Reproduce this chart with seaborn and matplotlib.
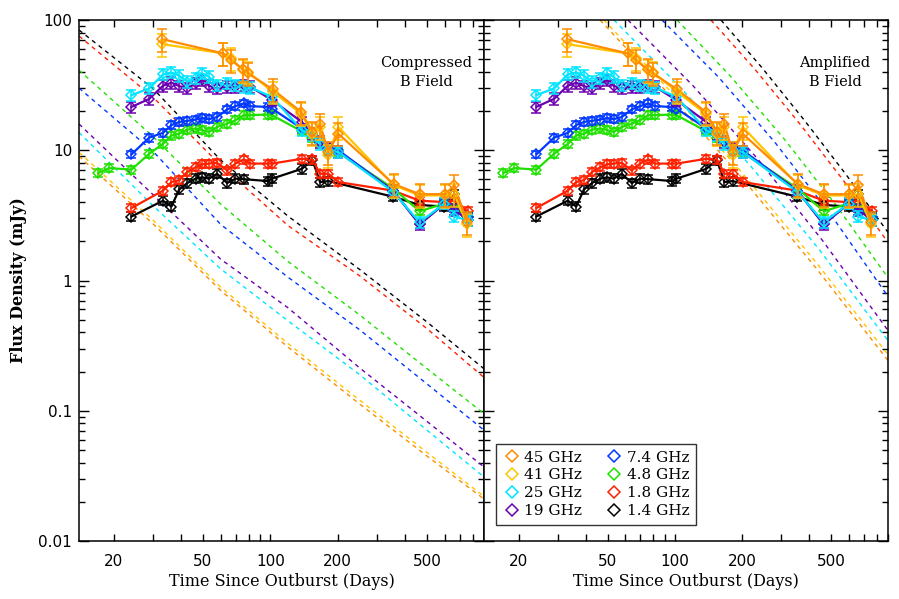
import matplotlib
matplotlib.use("Agg")
import matplotlib.pyplot as plt
from matplotlib.lines import Line2D
from matplotlib.ticker import FixedLocator, FixedFormatter, NullLocator
import pandas as pd
import seaborn as sns

# bands, colours and rough fractional errors
bands = ["45 GHz", "41 GHz", "25 GHz", "19 GHz", "7.4 GHz", "4.8 GHz", "1.8 GHz", "1.4 GHz"]
colors = ["#ff8c00", "#ffc400", "#00e5ff", "#6a00b0", "#0038ff", "#20e000", "#ff2000", "#000000"]
rel_err = [0.2, 0.2, 0.1, 0.1, 0.07, 0.07, 0.07, 0.08]

# observed light curves (days, mJy)
t_45 = [32.8, 61.6, 66.9, 75.6, 79.6, 102.4, 137.3, 154.3, 166.8, 181.6, 201.2, 355.6, 464.2, 603.6, 663.8, 755.9]
f_45 = [71.4, 55.4, 49.2, 41.7, 38.9, 29.4, 19.7, 13.8, 15.8, 9.7, 13.4, 5.5, 4.6, 4.6, 5.4, 2.8]
t_41 = [32.8, 61.6, 66.9, 75.6, 79.6, 102.4, 137.3, 154.3, 166.8, 181.6, 201.2, 355.6, 464.2, 603.6, 663.8, 755.9]
f_41 = [65.4, 55.4, 50.7, 41.2, 40.0, 28.1, 19.1, 13.4, 15.1, 9.2, 15.1, 5.4, 4.5, 4.5, 4.6, 2.7]
t_25 = [24.0, 28.8, 33.2, 36.2, 39.2, 42.6, 46.4, 49.7, 53.2, 57.9, 64.2, 69.9, 76.1, 81.5, 101.7,
        138.3, 154.3, 166.8, 181.6, 201.2, 353.3, 464.2, 599.5, 663.8, 760.5]
f_25 = [26.5, 29.8, 38.2, 39.6, 37.3, 33.6, 35.6, 38.9, 36.6, 31.6, 32.6, 31.6, 30.7, 30.3, 25.7,
        14.3, 13.0, 11.2, 10.0, 9.7, 4.8, 2.8, 3.9, 3.1, 2.9]
t_19 = [24.0, 28.8, 33.2, 36.2, 39.2, 42.6, 46.4, 49.7, 53.2, 57.9, 64.2, 69.9, 76.1, 81.5, 101.7,
        138.3, 154.3, 166.8, 181.6, 201.2, 353.3, 464.2, 599.5, 663.8, 760.5]
f_19 = [21.5, 24.8, 31.3, 33.0, 31.1, 29.8, 32.6, 34.6, 31.3, 29.8, 30.7, 30.7, 31.6, 30.7, 24.3,
        16.5, 13.4, 11.6, 10.3, 9.7, 4.9, 2.7, 3.9, 3.5, 2.9]
t_74 = [24.0, 28.8, 33.2, 36.2, 39.2, 42.6, 46.4, 49.7, 53.2, 57.9, 64.2, 69.9, 76.1, 81.5, 97.6, 101.7,
        138.3, 154.3, 166.8, 181.6, 201.2, 353.3, 464.2, 599.5, 663.8, 760.5]
f_74 = [9.3, 12.5, 13.6, 15.6, 16.5, 16.8, 17.2, 17.7, 17.3, 18.0, 20.6, 21.8, 22.9, 21.8, 21.5, 20.9,
        14.7, 13.0, 11.6, 10.5, 10.0, 4.9, 2.7, 3.9, 3.4, 3.1]
t_48 = [17.1, 19.1, 24.0, 28.8, 33.2, 36.2, 39.2, 42.6, 46.4, 49.7, 53.2, 57.9, 64.2, 69.9, 76.1, 81.5,
        97.6, 101.7, 138.3, 154.3, 166.8, 181.6, 201.2, 353.3, 464.2, 599.5, 663.8, 760.5]
f_48 = [6.7, 7.3, 7.1, 9.4, 11.2, 13.0, 13.4, 14.4, 14.7, 14.3, 13.8, 15.1, 16.0, 17.0, 18.6, 18.6,
        18.8, 18.6, 14.0, 12.4, 11.4, 10.1, 9.7, 5.1, 3.4, 3.9, 3.6, 3.1]
t_18 = [24.0, 33.2, 36.2, 39.2, 42.6, 46.4, 49.7, 53.2, 57.9, 64.2, 69.9, 76.1, 81.5, 97.6, 101.7,
        138.3, 154.3, 166.8, 181.6, 201.2, 353.3, 464.2, 599.5, 663.8, 760.5]
f_18 = [3.6, 4.9, 5.7, 5.9, 6.8, 7.4, 7.8, 7.9, 8.0, 7.0, 7.9, 8.5, 7.9, 7.9, 7.9,
        8.6, 8.5, 6.6, 6.6, 5.7, 4.9, 4.1, 4.0, 4.1, 3.4]
t_14 = [24.0, 33.2, 36.2, 39.2, 42.6, 46.4, 49.7, 53.2, 57.9, 64.2, 69.9, 76.1, 97.6, 101.7,
        138.3, 154.3, 166.8, 181.6, 353.3, 464.2, 599.5, 663.8, 760.5]
f_14 = [3.1, 4.1, 3.7, 5.0, 5.6, 6.05, 6.2, 6.05, 6.6, 5.6, 6.05, 6.0, 5.8, 6.05,
        7.2, 8.4, 5.7, 5.8, 4.4, 3.8, 3.7, 4.6, 3.1]

# compressed-field model curves (left panel), sampled at common times
t_comp = [14, 30, 60, 120, 250, 500, 900]
comp_45 = [9.0, 2.72, 0.84, 0.308, 0.113, 0.045, 0.021]
comp_41 = [9.65, 2.9, 0.89, 0.328, 0.121, 0.048, 0.022]
comp_25 = [13.7, 3.74, 1.23, 0.49, 0.19, 0.071, 0.031]
comp_19 = [15.9, 4.55, 1.46, 0.617, 0.214, 0.083, 0.037]
comp_74 = [30.0, 9.8, 2.7, 1.06, 0.42, 0.161, 0.071]
comp_48 = [41.2, 12.7, 3.86, 1.4, 0.546, 0.211, 0.095]
comp_18 = [75.3, 25.5, 7.67, 2.64, 1.09, 0.428, 0.18]
comp_14 = [83.8, 29.7, 8.42, 3.12, 1.22, 0.481, 0.21]

# amplified-field model curves (right panel)
ta_45 = [46.3, 97.2, 204, 428, 900]
amp_45 = [100, 25.3, 5.88, 1.25, 0.243]
ta_41 = [48.2, 100.2, 208, 433, 900]
amp_41 = [100, 26.0, 6.2, 1.35, 0.27]
ta_25 = [53.4, 108.2, 219, 444, 900]
amp_25 = [100, 29.2, 7.53, 1.72, 0.345]
ta_19 = [61.7, 120.6, 235.6, 460, 900]
amp_19 = [100, 31.3, 8.53, 2.01, 0.413]
ta_74 = [87.6, 157, 280.6, 502, 900]
amp_74 = [100, 36.4, 11.5, 3.16, 0.753]
ta_48 = [102.3, 176, 303, 522, 900]
amp_48 = [100, 37.6, 12.7, 3.86, 1.05]
ta_18 = [145, 229, 361, 570, 900]
amp_18 = [100, 41.6, 16.1, 5.82, 1.96]
ta_14 = [160.9, 247.4, 380, 585, 900]
amp_14 = [100, 42.4, 17.0, 6.48, 2.34]

obs_t = [t_45, t_41, t_25, t_19, t_74, t_48, t_18, t_14]
obs_f = [f_45, f_41, f_25, f_19, f_74, f_48, f_18, f_14]
comp_f = [comp_45, comp_41, comp_25, comp_19, comp_74, comp_48, comp_18, comp_14]
amp_t = [ta_45, ta_41, ta_25, ta_19, ta_74, ta_48, ta_18, ta_14]
amp_f = [amp_45, amp_41, amp_25, amp_19, amp_74, amp_48, amp_18, amp_14]

obs = pd.concat([pd.DataFrame({"t": t, "f": f, "band": b}) for t, f, b in zip(obs_t, obs_f, bands)])
comp = pd.concat([pd.DataFrame({"t": t_comp, "f": f, "band": b}) for f, b in zip(comp_f, bands)])
amp = pd.concat([pd.DataFrame({"t": t, "f": f, "band": b}) for t, f, b in zip(amp_t, amp_f, bands)])
palette = dict(zip(bands, colors))

sns.set_theme(style="ticks")
plt.rcParams["font.family"] = ["DejaVu Serif"]
plt.rcParams.update({"text.color": "black", "axes.labelcolor": "black",
                     "xtick.color": "black", "ytick.color": "black"})

fig = plt.figure(figsize=(8.99, 5.99), dpi=100)
ax_l = fig.add_axes([0.0879, 0.0968, 0.4505, 0.8698])
ax_r = fig.add_axes([0.5384, 0.0968, 0.4494, 0.8698])

xt = [20, 30, 40, 50, 60, 70, 80, 90, 100, 200, 300, 400, 500, 600, 700, 800, 900]
xl = ["20", "", "", "50", "", "", "", "", "100", "200", "", "", "500", "", "", "", ""]
yt = [0.01, 0.1, 1, 10, 100]
yl = ["0.01", "0.1", "1", "10", "100"]
ymin = [m * d for d in [0.01, 0.1, 1, 10] for m in range(2, 10)]

for ax, model in [(ax_l, comp), (ax_r, amp)]:
    ax.set_xscale("log")
    ax.set_yscale("log")
    sns.lineplot(data=model, x="t", y="f", hue="band", palette=palette, estimator=None,
                 linestyle=(0, (3, 3)), linewidth=1.0, legend=False, ax=ax, zorder=1)
    # data: lines first (low freq underneath), then error bars + open diamonds
    for i in reversed(range(len(bands))):
        d = obs[obs["band"] == bands[i]]
        sns.lineplot(data=d, x="t", y="f", color=colors[i], estimator=None,
                     linewidth=1.6, legend=False, ax=ax, zorder=3 + (7 - i) * 0.1)
        ax.errorbar(d["t"], d["f"], yerr=d["f"] * rel_err[i], fmt="D", ms=5.5, mfc="none",
                    mec=colors[i], mew=1.1, ecolor=colors[i], elinewidth=1.1, capsize=3.5,
                    capthick=1.1, zorder=3.05 + (7 - i) * 0.1)
    ax.set_xlim(14, 900)
    ax.set_ylim(0.01, 100)
    ax.xaxis.set_major_locator(FixedLocator(xt))
    ax.xaxis.set_major_formatter(FixedFormatter(xl))
    ax.xaxis.set_minor_locator(NullLocator())
    ax.yaxis.set_major_locator(FixedLocator(yt))
    ax.yaxis.set_major_formatter(FixedFormatter(yl))
    ax.yaxis.set_minor_locator(FixedLocator(ymin))
    ax.tick_params(axis="both", which="both", direction="in", top=True, right=True,
                   width=1.0, colors="black")
    ax.tick_params(axis="x", which="major", length=5, pad=9, labelsize=11)
    ax.tick_params(axis="y", which="major", length=7, pad=5, labelsize=11)
    ax.tick_params(axis="y", which="minor", length=4)
    for lab in ax.get_xticklabels() + ax.get_yticklabels():
        lab.set_family("DejaVu Sans")
    for s in ax.spines.values():
        s.set_linewidth(1.1)
        s.set_color("black")
    ax.set_xlabel("Time Since Outburst (Days)", fontsize=11.5, labelpad=3)
    ax.set_ylabel("")

ax_r.tick_params(axis="y", labelleft=False)
ax_l.set_ylabel("Flux Density (mJy)", fontsize=11.5, fontweight="bold", labelpad=8)

ax_l.text(0.857, 0.917, "Compressed", transform=ax_l.transAxes, ha="center", va="center", fontsize=10.5)
ax_l.text(0.857, 0.881, "B Field", transform=ax_l.transAxes, ha="center", va="center", fontsize=10.5)
ax_r.text(0.869, 0.917, "Amplified", transform=ax_r.transAxes, ha="center", va="center", fontsize=10.5)
ax_r.text(0.869, 0.881, "B Field", transform=ax_r.transAxes, ha="center", va="center", fontsize=10.5)

handles = [Line2D([], [], marker="D", ls="none", ms=6.5, mfc="none", mec=c, mew=1.1) for c in colors]
leg = ax_r.legend(handles, bands, ncol=2, loc="lower left", bbox_to_anchor=(0.03, 0.031),
                  borderaxespad=0, frameon=True, fancybox=False, fontsize=11, handletextpad=0.2,
                  columnspacing=1.5, labelspacing=0.25, borderpad=0.45, handlelength=1.2)
leg.get_frame().set_edgecolor("black")
leg.get_frame().set_linewidth(1.0)
leg.set_zorder(10)

fig.savefig("out.png", dpi=100)
